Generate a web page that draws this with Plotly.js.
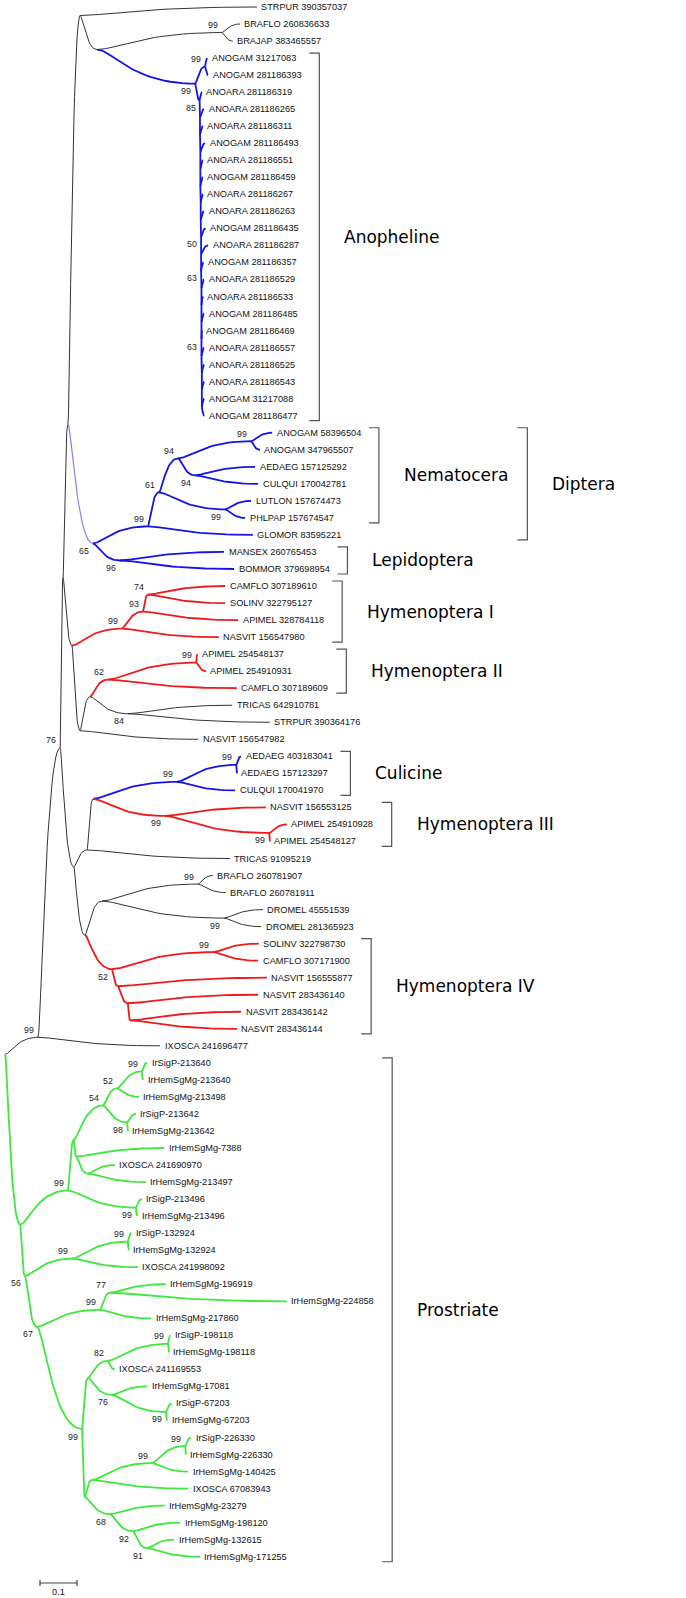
<!DOCTYPE html>
<html><head><meta charset="utf-8">
<script src="https://cdn.plot.ly/plotly-3.0.1.min.js"></script>
<style>html,body{margin:0;padding:0;background:#fff}#chart{width:686px;height:1598px}</style>
</head><body><div id="chart"></div>
<script>
// ================= DATA =================
// Leaves, top to bottom, with parent node and distance from root (substitutions/site)
const leafNames = [
 'STRPUR 390357037','BRAFLO 260836633','BRAJAP 383465557',
 'ANOGAM 31217083','ANOGAM 281186393','ANOARA 281186319','ANOARA 281186265','ANOARA 281186311',
 'ANOGAM 281186493','ANOARA 281186551','ANOGAM 281186459','ANOARA 281186267','ANOARA 281186263',
 'ANOGAM 281186435','ANOARA 281186287','ANOGAM 281186357','ANOARA 281186529','ANOARA 281186533',
 'ANOGAM 281186485','ANOGAM 281186469','ANOARA 281186557','ANOARA 281186525','ANOARA 281186543',
 'ANOGAM 31217088','ANOGAM 281186477',
 'ANOGAM 58396504','ANOGAM 347965507','AEDAEG 157125292','CULQUI 170042781','LUTLON 157674473',
 'PHLPAP 157674547','GLOMOR 83595221','MANSEX 260765453','BOMMOR 379698954',
 'CAMFLO 307189610','SOLINV 322795127','APIMEL 328784118','NASVIT 156547980',
 'APIMEL 254548137','APIMEL 254910931','CAMFLO 307189609','TRICAS 642910781','STRPUR 390364176',
 'NASVIT 156547982','AEDAEG 403183041','AEDAEG 157123297','CULQUI 170041970',
 'NASVIT 156553125','APIMEL 254910928','APIMEL 254548127','TRICAS 91095219',
 'BRAFLO 260781907','BRAFLO 260781911','DROMEL 45551539','DROMEL 281365923',
 'SOLINV 322798730','CAMFLO 307171900','NASVIT 156555877','NASVIT 283436140','NASVIT 283436142',
 'NASVIT 283436144','IXOSCA 241696477',
 'IrSigP-213640','IrHemSgMg-213640','IrHemSgMg-213498','IrSigP-213642','IrHemSgMg-213642',
 'IrHemSgMg-7388','IXOSCA 241690970','IrHemSgMg-213497','IrSigP-213496','IrHemSgMg-213496',
 'IrSigP-132924','IrHemSgMg-132924','IXOSCA 241998092','IrHemSgMg-196919','IrHemSgMg-224858',
 'IrHemSgMg-217860','IrSigP-198118','IrHemSgMg-198118','IXOSCA 241169553','IrHemSgMg-17081',
 'IrSigP-67203','IrHemSgMg-67203','IrSigP-226330','IrHemSgMg-226330','IrHemSgMg-140425',
 'IXOSCA 67083943','IrHemSgMg-23279','IrHemSgMg-198120','IrHemSgMg-132615','IrHemSgMg-171255'
];
const leafParent = [
 'nA','BRA','BRA',
 'AN1','AN1','AN5','AN6','AN7','AN8','AN9','AN10','AN11','AN12','AN13','AN14','AN15','AN16','AN17',
 'AN18','AN19','AN20','AN21','AN22','AN23','AN23',
 'nANOG','nANOG','n94b','n94b','n99LP','n99LP','n99Nem','n96','n96',
 'n74','n74','n93','nH1','nH2','nH2','n62','n84','n84','X1',
 'nAED','nAED','nCul','nH3','nAPI','nAPI','Q',
 'nBRF','nBRF','nDRO','nDRO','nSOL','nSOL','n118','n128','n130','n130','n99root',
 'nP640','nP640','n52g','nP98','nP98','U2','nIX','nIX','nP496','nP496',
 'nP924','nP924','n99c','n77','n77','n9977','nP118','nP118','n82','n76g','nP203','nP203',
 'nP330','nP330','n99p','M','n68','n92','n91','n91'
];
const leafDepth = [
 0.681,0.635,0.616,
 0.546,0.549,0.532,0.538,0.535,0.541,0.535,0.535,0.535,0.538,0.542,0.549,0.536,0.538,0.535,
 0.538,0.532,0.538,0.538,0.538,0.538,0.538,
 0.722,0.689,0.676,0.684,0.665,0.649,0.670,0.592,0.619,
 0.595,0.595,0.630,0.578,0.519,0.543,0.627,0.614,0.716,0.522,
 0.638,0.627,0.622,0.705,0.762,0.716,0.608,
 0.562,0.597,0.697,0.692,0.686,0.684,0.708,0.684,0.638,0.627,0.419,
 0.384,0.373,0.362,0.354,0.332,0.430,0.297,0.381,0.370,0.357,
 0.341,0.335,0.359,0.435,0.762,0.395,0.446,0.443,0.297,0.384,0.451,0.438,
 0.503,0.489,0.495,0.495,0.432,0.473,0.457,0.527
];

// Internal nodes: name, parent, distance from root, bootstrap support
const nodeNames = [
 'root','n99root','n76','Zp','Z','nA','B','BRA','ANO','AN1','AN5',
 'AN6','AN7','AN8','AN9','AN10','AN11','AN12','AN13','AN14','AN15','AN16','AN17','AN18','AN19',
 'AN20','AN21','AN22','AN23',
 'n65','n99Nem','n61','n94a','nANOG','n94b','n99LP','n96',
 'W','nH1','n93','n74','X1','Y','n62','nH2','n84',
 'R','Q','P','nCul','nAED','nH3','nAPI','S','T','nBRF','nDRO','n52','nSOL','n118','n128','n130',
 'G1','n99g','U','n54','n52g','nP640','nP98','U2','nIX','nP496',
 'n56','n99c','nP924','n67','n9977','n77','n99big','K','n82','nP118','n76g','nP203',
 'L','M','n99p','nP330','n68','n92','n91'
];
const nodeParent = [
 null,'root','n99root','n76','Zp','Z','nA','B','B','ANO','ANO',
 'AN5','AN6','AN7','AN8','AN9','AN10','AN11','AN12','AN13','AN14','AN15','AN16','AN17','AN18',
 'AN19','AN20','AN21','AN22',
 'Z','n65','n99Nem','n61','n94a','n94a','n61','n65',
 'Zp','W','nH1','n93','W','X1','Y','n62','Y',
 'n76','R','Q','P','nCul','P','nH3','R','S','T','T','S','n52','n52','n118','n128',
 'root','G1','n99g','U','n54','n52g','n54','U','U2','n99g',
 'G1','n56','n99c','n56','n67','n9977','n67','n99big','K','n82','K','n76g',
 'n99big','L','M','n99p','L','n68','n92'
];
const nodeDepth = [
 0,0.089,0.149,0.157,0.170,0.203,0.249,0.586,0.514,0.541,0.526,
 0.527,0.527,0.528,0.528,0.528,0.529,0.529,0.530,0.530,0.530,0.531,0.531,0.531,0.531,
 0.531,0.532,0.532,0.532,
 0.238,0.386,0.416,0.468,0.665,0.514,0.595,0.311,
 0.181,0.316,0.373,0.386,0.203,0.230,0.278,0.517,0.332,
 0.186,0.222,0.238,0.465,0.625,0.432,0.714,0.216,0.262,0.522,0.592,0.289,0.562,0.305,0.332,0.338,
 0.041,0.170,0.186,0.265,0.303,0.370,0.330,0.192,0.224,0.354,
 0.054,0.181,0.332,0.086,0.257,0.284,0.208,0.224,0.278,0.441,0.289,0.435,
 0.216,0.235,0.397,0.487,0.284,0.346,0.384
];
const nodeSupport = [
 '','99','76','','','','','99','99','99','85',
 '','','','','','','','50','','63','','','','63',
 '','','','',
 '65','99','61','94','99','94','99','96',
 '','99','93','74','','','62','99','84',
 '','','','99','99','99','99','','','99','99','52','99','','','',
 '','99','','54','52','99','98','','','99',
 '56','99','99','67','99','77','99','','82','99','76','99',
 '','','99','99','68','92','91'
];

// Bracketed clades
const groupNames = ['Anopheline','Nematocera','Diptera','Lepidoptera','Hymenoptera I','Hymenoptera II',
 'Culicine','Hymenoptera III','Hymenoptera IV','Prostriate'];
const groupFirstLeaf = ['ANOGAM 31217083','ANOGAM 58396504','ANOGAM 58396504','MANSEX 260765453',
 'CAMFLO 307189610','APIMEL 254548137','AEDAEG 403183041','NASVIT 156553125','SOLINV 322798730','IrSigP-213640'];
const groupLastLeaf = ['ANOGAM 281186477','PHLPAP 157674547','GLOMOR 83595221','BOMMOR 379698954',
 'NASVIT 156547980','CAMFLO 307189609','CULQUI 170041970','APIMEL 254548127','NASVIT 283436144','IrHemSgMg-171255'];

const scaleBarLength = 0.1;
const scaleBarLabel = '0.1';

// ================= STYLE =================
const COL = {gray:'#333333', blue:'#1414e8', red:'#ee1a1a', green:'#3ee83e', lav:'#8282f0'};
const WID = {gray:1, blue:1.8, red:1.8, green:1.8, lav:1.2};
const cladeColour = {G1:'green', ANO:'blue', n65:'lav', n99Nem:'blue', n96:'blue',
  nH1:'red', n62:'red', nCul:'blue', nH3:'red', n52:'red'};
const PXU = 370, X0 = 5;           // pixels per unit branch length, root pixel x
const ROW = 17.03, Y0 = 7;          // pixels per leaf row, first row pixel y
const W = 686, H = 1598;
const leafFont = {family:'Liberation Sans, Arial, sans-serif', size:9.2, color:'#111'};
const supFont = {family:'Liberation Sans, Arial, sans-serif', size:8.8, color:'#222'};
const grpFont = {family:'DejaVu Sans, Verdana, sans-serif', size:17, color:'#000'};

const dFromPx = px => (px - X0) / PXU;
const pxFromD = d => X0 + d * PXU;
const yFromPx = py => (py - Y0) / ROW;

// ================= BUILD TREE =================
const N = {};
nodeNames.forEach((n,i)=>{ N[n] = {name:n, x:nodeDepth[i], parent:nodeParent[i], sup:nodeSupport[i], kids:[], leaf:false}; });
leafNames.forEach((n,i)=>{ N['leaf:'+n] = {name:n, x:leafDepth[i], parent:leafParent[i], kids:[], leaf:true, idx:i, y:i, lo:i, hi:i}; });
Object.values(N).forEach(nd=>{ if(nd.parent) N[nd.parent].kids.push(nd); });
function layout(nd){
  if(nd.leaf) return;
  nd.kids.forEach(layout);
  nd.kids.sort((a,b)=>a.lo-b.lo);
  nd.lo = Math.min(...nd.kids.map(k=>k.lo));
  nd.hi = Math.max(...nd.kids.map(k=>k.hi));
  const f = nd.kids[0], l = nd.kids[nd.kids.length-1];
  nd.y = (f.hi + l.lo) / 2;
}
layout(N.root);
function colour(nd){
  if(nd.col) return nd.col;
  if(!nd.leaf && cladeColour[nd.name]) nd.col = cladeColour[nd.name];
  else if(!nd.parent) nd.col = 'gray';
  else nd.col = colour(N[nd.parent]);
  return nd.col;
}

// ================= BRANCHES =================
const seg = {gray:{x:[],y:[]}, lav:{x:[],y:[]}, blue:{x:[],y:[]}, red:{x:[],y:[]}, green:{x:[],y:[]}};
function bez(p, c, store){
  const x0=p.x, y0=p.y, x1=c.x, y1=c.y, dx=x1-x0;
  const c1=x0+0.15*dx, c2=x0+0.35*dx, n=28;
  for(let i=0;i<=n;i++){
    const t=i/n, u=1-t;
    store.x.push(u*u*u*x0 + 3*u*u*t*c1 + 3*u*t*t*c2 + t*t*t*x1);
    store.y.push(u*u*u*y0 + 3*u*u*t*y0 + 3*u*t*t*y1 + t*t*t*y1);
  }
  store.x.push(null); store.y.push(null);
}
Object.values(N).forEach(nd=>{ if(nd.parent){ bez(N[nd.parent], nd, seg[colour(nd)]); } });

const traces = [];
['gray','lav','blue','red','green'].forEach(k=>{
  traces.push({type:'scatter', mode:'lines', x:seg[k].x, y:seg[k].y, hoverinfo:'skip',
    line:{color:COL[k], width:WID[k], shape:'linear'}, connectgaps:false});
});

// ================= LABELS =================
const annotations = [];
const cv = document.createElement('canvas').getContext('2d');
function textW(t, f){ cv.font = f.size + 'px ' + f.family.split(',').map(s=>'"'+s.trim()+'"').join(','); return cv.measureText(t).width; }
const rightEdge = {};
leafNames.forEach((n,i)=>{
  annotations.push({x:leafDepth[i], y:i, text:n, showarrow:false, xanchor:'left', yanchor:'middle',
    xshift:2.5, font:leafFont, borderpad:1});
  rightEdge[i] = pxFromD(leafDepth[i]) + 3.5 + textW(n, leafFont);
});
nodeNames.forEach(n=>{
  const nd = N[n];
  if(!nd.sup) return;
  const par = N[nd.parent];
  const first = par.kids[0] === nd;
  annotations.push({x:nd.x, y:nd.y, text:nd.sup, showarrow:false, xanchor:'right', yanchor:'middle',
    xshift:-3, yshift: first ? 7.5 : -7.5, font:supFont, borderpad:0});
});

// ================= BRACKETS =================
const brk = {x:[], y:[]};
const groups = groupNames.map((g,i)=>({name:g, a:leafNames.indexOf(groupFirstLeaf[i]), b:leafNames.indexOf(groupLastLeaf[i])}));
const order = groups.slice().sort((p,q)=>(p.b-p.a)-(q.b-q.a));
order.forEach(g=>{
  let mx = 0;
  for(let i=g.a;i<=g.b;i++) mx = Math.max(mx, rightEdge[i]);
  groups.forEach(o=>{ if(o!==g && o.done && o.a>=g.a && o.b<=g.b) mx = Math.max(mx, o.labelRight); });
  const bx = mx + 19;
  const ya = g.a - 5/ROW, yb = g.b + 5/ROW;
  brk.x.push(dFromPx(bx-10), dFromPx(bx), dFromPx(bx), dFromPx(bx-10), null);
  brk.y.push(ya, ya, yb, yb, null);
  g.labelRight = bx + 25 + textW(g.name, grpFont);
  g.done = true;
  annotations.push({x:dFromPx(bx+24), y:(ya+yb)/2, text:g.name, showarrow:false, xanchor:'left', yanchor:'middle',
    font:grpFont, borderpad:0});
});
traces.push({type:'scatter', mode:'lines', x:brk.x, y:brk.y, hoverinfo:'skip', line:{color:'#555', width:1.2}});

// ================= SCALE BAR =================
const sbx0 = dFromPx(40), sby = yFromPx(1583), tick = 3/ROW;
traces.push({type:'scatter', mode:'lines', hoverinfo:'skip', line:{color:'#444', width:1.2},
  x:[sbx0, sbx0+scaleBarLength, null, sbx0, sbx0, null, sbx0+scaleBarLength, sbx0+scaleBarLength],
  y:[sby, sby, null, sby-tick, sby+tick, null, sby-tick, sby+tick]});
annotations.push({x:sbx0+scaleBarLength/2, y:yFromPx(1592), text:scaleBarLabel, showarrow:false,
  xanchor:'center', yanchor:'middle', font:leafFont});

Plotly.newPlot('chart', traces, {
  width:W, height:H, margin:{l:0,r:0,t:0,b:0,pad:0}, showlegend:false,
  paper_bgcolor:'#fff', plot_bgcolor:'#fff',
  xaxis:{range:[dFromPx(0), dFromPx(W)], visible:false, fixedrange:true},
  yaxis:{range:[yFromPx(H), yFromPx(0)], visible:false, fixedrange:true},
  annotations:annotations
}, {staticPlot:true});
</script></body></html>
